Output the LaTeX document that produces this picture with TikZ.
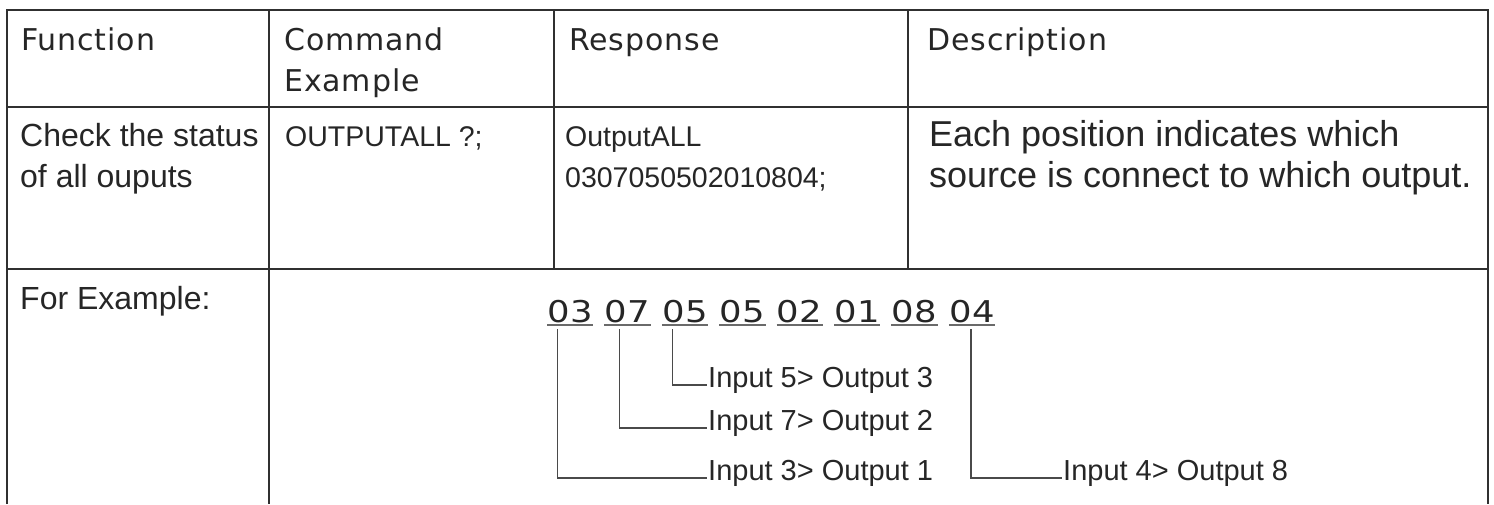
\documentclass[tikz,border=0pt]{standalone}
\usepackage{fontspec}
\setmainfont{Liberation Sans}
\newfontfamily\headfont[LetterSpace=3]{DejaVu Sans}
\newfontfamily\pairfont[FakeStretch=1.18,LetterSpace=2]{DejaVu Sans}
\definecolor{tabline}{HTML}{303030}
\definecolor{inkgray}{HTML}{262626}
\definecolor{wiregray}{HTML}{4A4A4A}
\definecolor{ulgray}{HTML}{6A6A6A}
\tikzset{
  grid/.style={draw=tabline, line width=2pt},
  link/.style={draw=wiregray, line width=1.2pt},
  uline/.style={draw=ulgray, line width=1.8pt},
  every node/.style={
    inner sep=0pt,
    text=inkgray
  },
  head/.style={anchor=base west, font=\headfont\fontsize{30}{36}\selectfont},
  cell/.style={anchor=base west, font=\fontsize{32}{40}\selectfont},
  small/.style={anchor=base west, font=\fontsize{28.5}{36}\selectfont},
  desc/.style={anchor=base west, font=\fontsize{36}{40}\selectfont},
  pair/.style={anchor=base west, text width=46pt, align=left, text depth=0pt,
    font=\pairfont\fontsize{30}{36}\selectfont},
  lbl/.style={anchor=west, inner xsep=1pt, text height=0.57em, text depth=0pt,
    font=\fontsize{29}{36}\selectfont}
}

\begin{document}
\begin{tikzpicture}[x=1pt,y=-1pt]

    \useasboundingbox (0,0) rectangle (1494,504);

    %-------------------------
    % table lines
    %-------------------------
    \draw[grid] (7,504) -- (7,9.5) -- (1488,9.5) -- (1488,504);
    \draw[grid] (7,107.3) -- (1488,107.3);
    \draw[grid] (7,269) -- (1488,269);
    \draw[grid] (269,9.5) -- (269,504);
    \draw[grid] (554,9.5) -- (554,269);
    \draw[grid] (908,9.5) -- (908,269);

    %-------------------------
    % header row
    %-------------------------
    \node[head] (hfunc) at (21,50) {Function};
    \node[head] (hcmd1) at (284,50) {Command};
    \node[head] (hcmd2) at (284,91) {Example};
    \node[head] (hresp) at (569,50) {Response};
    \node[head] (hdesc) at (927,50) {Description};

    %-------------------------
    % OUTPUTALL row
    %-------------------------
    \node[cell] (func1) at (20,146.7) {Check the status};
    \node[cell] (func2) at (20,187.5) {of all ouputs};
    \node[small] (cmd) at (285,146.7) {OUTPUTALL ?;};
    \node[small] (resp1) at (565,146.7) {OutputALL};
    \node[small] (resp2) at (565,187.5) {0307050502010804;};
    \node[desc] (desc1) at (929,146.7) {Each position indicates which};
    \node[desc] (desc2) at (929,187.5) {source is connect to which output.};

    %-------------------------
    % example row
    %-------------------------
    \node[cell] (ex) at (20,309.5) {For Example:};

    \node[pair] (d1) at (547,322.7) {03};
    \node[pair] (d2) at (604.4,322.7) {07};
    \node[pair] (d3) at (661.8,322.7) {05};
    \node[pair] (d4) at (719.2,322.7) {05};
    \node[pair] (d5) at (776.6,322.7) {02};
    \node[pair] (d6) at (834,322.7) {01};
    \node[pair] (d7) at (891.4,322.7) {08};
    \node[pair] (d8) at (948.8,322.7) {04};

    \draw[uline] ([yshift=-2.5pt]d1.base west) -- ([yshift=-2.5pt]d1.base east);
    \draw[uline] ([yshift=-2.5pt]d2.base west) -- ([yshift=-2.5pt]d2.base east);
    \draw[uline] ([yshift=-2.5pt]d3.base west) -- ([yshift=-2.5pt]d3.base east);
    \draw[uline] ([yshift=-2.5pt]d4.base west) -- ([yshift=-2.5pt]d4.base east);
    \draw[uline] ([yshift=-2.5pt]d5.base west) -- ([yshift=-2.5pt]d5.base east);
    \draw[uline] ([yshift=-2.5pt]d6.base west) -- ([yshift=-2.5pt]d6.base east);
    \draw[uline] ([yshift=-2.5pt]d7.base west) -- ([yshift=-2.5pt]d7.base east);
    \draw[uline] ([yshift=-2.5pt]d8.base west) -- ([yshift=-2.5pt]d8.base east);

    \node[lbl] (in5) at (707,385) {Input 5> Output 3};
    \node[lbl] (in7) at (707,428) {Input 7> Output 2};
    \node[lbl] (in3) at (707,478) {Input 3> Output 1};
    \node[lbl] (in4) at (1062,478) {Input 4> Output 8};

    \draw[link] ([xshift=10.7pt,yshift=-6.5pt]d1.base west) |- (in3.west);
    \draw[link] ([xshift=15.3pt,yshift=-6.5pt]d2.base west) |- (in7.west);
    \draw[link] ([xshift=10.9pt,yshift=-6.5pt]d3.base west) |- (in5.west);
    \draw[link] ([xshift=22.2pt,yshift=-6.5pt]d8.base west) |- (in4.west);

    \end{tikzpicture}
\end{document}
